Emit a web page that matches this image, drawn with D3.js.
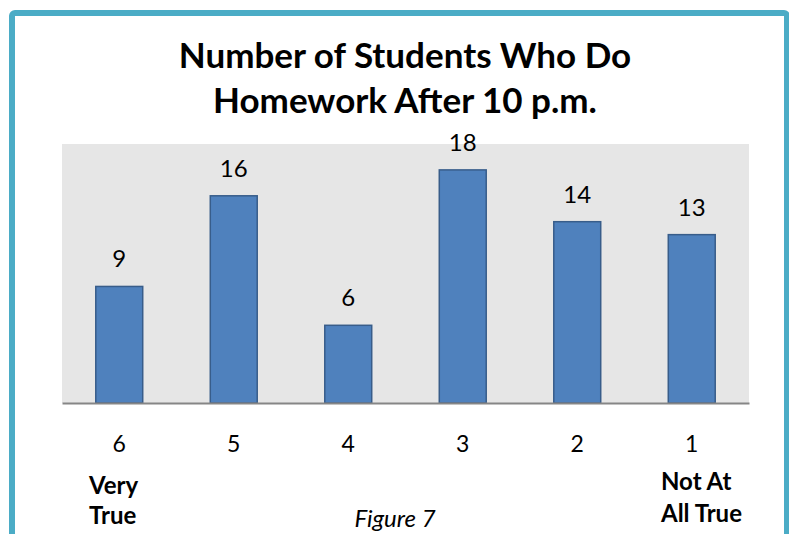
<!DOCTYPE html>
<html>
<head>
<meta charset="utf-8">
<script src="https://cdn.jsdelivr.net/npm/d3@7"></script>
<style>
  body { margin: 0; background: #fff; }
  text { font-family: Lato, "Open Sans", sans-serif; fill: #000; }
</style>
</head>
<body>
<svg id="chart" width="789" height="534"></svg>
<script>
// values
const categories = ["6", "5", "4", "3", "2", "1"];
const counts = [9, 16, 6, 18, 14, 13];
const titleLines = ["Number of Students Who Do", "Homework After 10 p.m."];
const leftNote = ["Very", "True"];
const rightNote = ["Not At", "All True"];
const caption = "Figure 7";

const svg = d3.select("#chart");

// teal frame round the whole figure
svg.append("rect")
    .attr("x", 12).attr("y", 13)
    .attr("width", 775).attr("height", 540)
    .attr("rx", 3)
    .attr("fill", "none")
    .attr("stroke", "#4bacc6")
    .attr("stroke-width", 6);

const plot = {left: 62, right: 749, top: 144, bottom: 403};

const x = d3.scaleBand()
    .domain(categories)
    .range([plot.left, plot.right])
    .paddingInner(0.59)
    .paddingOuter(0.295);

const y = d3.scaleLinear()
    .domain([0, 20])
    .range([plot.bottom, plot.top]);

svg.append("rect")
    .attr("x", plot.left).attr("y", plot.top)
    .attr("width", plot.right - plot.left)
    .attr("height", plot.bottom - plot.top)
    .attr("fill", "#e6e6e6");

const data = categories.map((c, i) => ({cat: c, value: counts[i]}));

svg.append("g")
    .selectAll("rect")
    .data(data)
    .join("rect")
    .attr("x", d => x(d.cat))
    .attr("y", d => y(d.value))
    .attr("width", x.bandwidth())
    .attr("height", d => y(0) - y(d.value))
    .attr("fill", "#4f81bd")
    .attr("stroke", "#385d8a")
    .attr("stroke-width", 1.5);

svg.append("g")
    .selectAll("text")
    .data(data)
    .join("text")
    .attr("x", d => x(d.cat) + x.bandwidth() / 2)
    .attr("y", d => y(d.value) - 19)
    .attr("text-anchor", "middle")
    .attr("font-size", 24)
    .text(d => d.value);

// category axis, line only, labels set lower
const xAxis = svg.append("g")
    .attr("transform", `translate(0,${plot.bottom})`)
    .call(d3.axisBottom(x).tickSize(0).tickPadding(33));
xAxis.select(".domain").attr("stroke", "#868686").attr("stroke-width", 2);
xAxis.selectAll("text")
    .attr("font-size", 23)
    .attr("font-family", "Lato, 'Open Sans', sans-serif")
    .attr("fill", "#000");

svg.append("g")
    .selectAll("text")
    .data(titleLines)
    .join("text")
    .attr("x", 405)
    .attr("y", (d, i) => 68 + i * 45)
    .attr("text-anchor", "middle")
    .attr("font-size", 35)
    .attr("font-weight", "bold")
    .text(d => d);

svg.append("g")
    .selectAll("text")
    .data(leftNote)
    .join("text")
    .attr("x", 89)
    .attr("y", (d, i) => 494 + i * 30)
    .attr("font-size", 24)
    .attr("font-weight", "bold")
    .text(d => d);

svg.append("g")
    .selectAll("text")
    .data(rightNote)
    .join("text")
    .attr("x", 661)
    .attr("y", (d, i) => 490 + i * 32)
    .attr("font-size", 24)
    .attr("font-weight", "bold")
    .text(d => d);

svg.append("text")
    .attr("x", 395)
    .attr("y", 527)
    .attr("text-anchor", "middle")
    .attr("font-size", 24)
    .attr("font-style", "italic")
    .text(caption);
</script>
</body>
</html>
